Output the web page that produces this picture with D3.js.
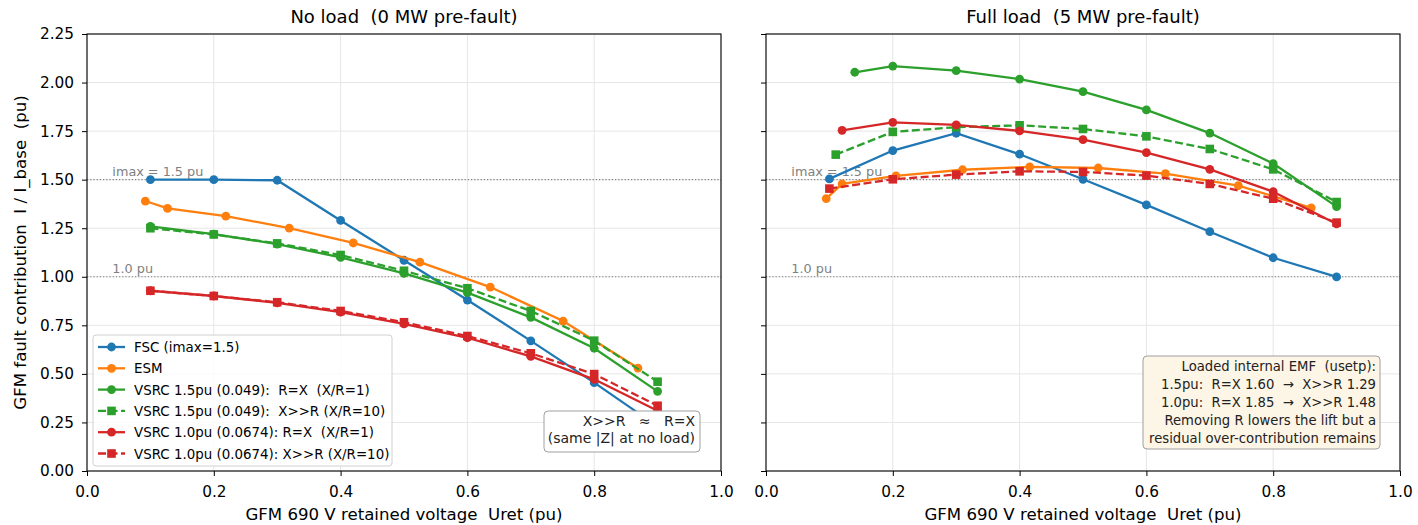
<!DOCTYPE html>
<html><head><meta charset="utf-8">
<script src="https://cdn.jsdelivr.net/npm/d3@7"></script>
<style>body{margin:0;background:#fff}text{font-family:"DejaVu Sans",sans-serif;white-space:pre}</style>
</head><body><svg id="c" width="1418" height="525"></svg>
<script>
const xTicks = [0.0, 0.2, 0.4, 0.6, 0.8, 1.0];
const yTicks = [0.00, 0.25, 0.50, 0.75, 1.00, 1.25, 1.50, 1.75, 2.00, 2.25];
const uGrid = [0.1, 0.2, 0.3, 0.4, 0.5, 0.6, 0.7, 0.8, 0.9];

// No load panel
const nl_fsc  = [1.50, 1.50, 1.497, 1.29, 1.085, 0.88, 0.67, 0.455, 0.23];
const nl_esmU = [0.092, 0.127, 0.219, 0.319, 0.42, 0.525, 0.636, 0.751, 0.869];
const nl_esm  = [1.39, 1.352, 1.312, 1.251, 1.174, 1.075, 0.947, 0.772, 0.53];
const nl_v15rx = [1.26, 1.22, 1.168, 1.10, 1.018, 0.918, 0.791, 0.632, 0.41];
const nl_v15xr = [1.25, 1.218, 1.172, 1.112, 1.031, 0.941, 0.824, 0.671, 0.46];
const nl_v10rx = [0.928, 0.901, 0.866, 0.818, 0.758, 0.686, 0.59, 0.472, 0.31];
const nl_v10xr = [0.928, 0.901, 0.869, 0.824, 0.766, 0.695, 0.606, 0.499, 0.336];

// Full load panel
const fl_fsc  = [1.504, 1.650, 1.739, 1.631, 1.502, 1.370, 1.232, 1.098, 0.999];
const fl_esmU = [0.095, 0.12, 0.205, 0.31, 0.416, 0.524, 0.63, 0.745, 0.86];
const fl_esm  = [1.402, 1.478, 1.520, 1.551, 1.566, 1.560, 1.531, 1.469, 1.355];
const fl_v15rxU = [0.14, 0.2, 0.3, 0.4, 0.5, 0.6, 0.7, 0.8, 0.9];
const fl_v15rx = [2.053, 2.085, 2.061, 2.018, 1.953, 1.859, 1.740, 1.583, 1.361];
const fl_v15xrU = [0.11, 0.2, 0.3, 0.4, 0.5, 0.6, 0.7, 0.8, 0.9];
const fl_v15xr = [1.629, 1.746, 1.770, 1.780, 1.761, 1.723, 1.658, 1.553, 1.385];
const fl_v10rxU = [0.12, 0.2, 0.3, 0.4, 0.5, 0.6, 0.7, 0.8, 0.9];
const fl_v10rx = [1.754, 1.795, 1.782, 1.751, 1.706, 1.639, 1.553, 1.438, 1.272];
const fl_v10xr = [1.454, 1.502, 1.526, 1.543, 1.540, 1.521, 1.478, 1.402, 1.279];

const legendLabels = ["FSC (imax=1.5)", "ESM", "VSRC 1.5pu (0.049):  R=X  (X/R=1)", "VSRC 1.5pu (0.049):  X>>R (X/R=10)", "VSRC 1.0pu (0.0674): R=X  (X/R=1)", "VSRC 1.0pu (0.0674): X>>R (X/R=10)"];
const colors = ["#1f77b4", "#ff7f0e", "#2ca02c", "#2ca02c", "#d62728", "#d62728"];
const dashed = [false, false, false, true, false, true];
const squareM = [false, false, false, true, false, true];

const zip = (u, v) => u.map((d, i) => [d, v[i]]);
const panels = [
  {x0: 87, title: "No load  (0 MW pre-fault)", yLabels: true,
   series: [zip(uGrid, nl_fsc), zip(nl_esmU, nl_esm), zip(uGrid, nl_v15rx), zip(uGrid, nl_v15xr), zip(uGrid, nl_v10rx), zip(uGrid, nl_v10xr)]},
  {x0: 766, title: "Full load  (5 MW pre-fault)", yLabels: false,
   series: [zip(uGrid, fl_fsc), zip(fl_esmU, fl_esm), zip(fl_v15rxU, fl_v15rx), zip(fl_v15xrU, fl_v15xr), zip(fl_v10rxU, fl_v10rx), zip(uGrid, fl_v10xr)]}
];
const W = 634, pTop = 34, pBot = 471;
const svg = d3.select("#c");
const y = d3.scaleLinear().domain([0, 2.25]).range([pBot, pTop]);

panels.forEach((p, pi) => {
  const x = d3.scaleLinear().domain([0, 1]).range([p.x0, p.x0 + W]);
  const g = svg.append("g");
  // grid
  g.selectAll(".gx").data(xTicks).join("line").attr("x1", d => x(d)).attr("x2", d => x(d)).attr("y1", pTop).attr("y2", pBot).attr("stroke", "#e6e6e6").attr("stroke-width", 1);
  g.selectAll(".gy").data(yTicks).join("line").attr("x1", p.x0).attr("x2", p.x0 + W).attr("y1", d => y(d)).attr("y2", d => y(d)).attr("stroke", "#e6e6e6").attr("stroke-width", 1);
  // reference lines
  [[1.5, "imax = 1.5 pu"], [1.0, "1.0 pu"]].forEach(([v, t]) => {
    g.append("line").attr("x1", p.x0).attr("x2", p.x0 + W).attr("y1", y(v)).attr("y2", y(v)).attr("stroke", "#808080").attr("stroke-width", 1.1).attr("stroke-dasharray", "1.2,2");
    g.append("text").attr("x", x(0.04)).attr("y", y(v) - 4).attr("font-size", 12.8).attr("fill", "#808080").text(t);
  });
  // series
  const line = d3.line().x(d => x(d[0])).y(d => y(d[1]));
  p.series.forEach((s, i) => {
    g.append("path").datum(s).attr("d", line).attr("fill", "none").attr("stroke", colors[i]).attr("stroke-width", 2.3)
      .attr("stroke-dasharray", dashed[i] ? "8,3.5" : null);
    if (squareM[i]) {
      g.selectAll(null).data(s).join("rect").attr("x", d => x(d[0]) - 4.3).attr("y", d => y(d[1]) - 4.3).attr("width", 8.6).attr("height", 8.6).attr("fill", colors[i]);
    } else {
      g.selectAll(null).data(s).join("circle").attr("cx", d => x(d[0])).attr("cy", d => y(d[1])).attr("r", 4.4).attr("fill", colors[i]);
    }
  });
  // axes
  const ax = g.append("g").attr("transform", `translate(0,${pBot})`).call(d3.axisBottom(x).tickValues(xTicks).tickFormat(d3.format(".1f")).tickSize(5).tickPadding(10));
  const ay = g.append("g").attr("transform", `translate(${p.x0},0)`).call(d3.axisLeft(y).tickValues(yTicks).tickFormat(p.yLabels ? d3.format(".2f") : () => "").tickSize(5).tickPadding(8));
  [ax, ay].forEach(a => { a.select(".domain").remove(); a.selectAll("text").attr("font-size", 15.3).attr("fill", "#000").attr("font-family", "DejaVu Sans"); a.selectAll("line").attr("stroke", "#000"); });
  g.append("rect").attr("x", p.x0).attr("y", pTop).attr("width", W).attr("height", pBot - pTop).attr("fill", "none").attr("stroke", "#000").attr("stroke-width", 1.1);
  g.append("text").attr("x", p.x0 + W / 2).attr("y", 23).attr("text-anchor", "middle").attr("font-size", 18).text(p.title);
  g.append("text").attr("x", p.x0 + W / 2).attr("y", 520).attr("text-anchor", "middle").attr("font-size", 16.6).text("GFM 690 V retained voltage  Uret (pu)");
});

svg.append("text").attr("transform", "translate(26,252.5) rotate(-90)").attr("text-anchor", "middle").attr("font-size", 16.6).text("GFM fault contribution  I / I_base  (pu)");

// legend
const lg = svg.append("g");
lg.append("rect").attr("x", 93).attr("y", 335).attr("width", 299).attr("height", 131).attr("rx", 3).attr("fill", "rgba(255,255,255,0.8)").attr("stroke", "#d0d0d0");
legendLabels.forEach((t, i) => {
  const yy = 347 + i * 21.3;
  lg.append("line").attr("x1", 98).attr("x2", 125).attr("y1", yy).attr("y2", yy).attr("stroke", colors[i]).attr("stroke-width", 2.3).attr("stroke-dasharray", dashed[i] ? "8,3.5" : null);
  if (squareM[i]) lg.append("rect").attr("x", 111.5 - 4.3).attr("y", yy - 4.3).attr("width", 8.6).attr("height", 8.6).attr("fill", colors[i]);
  else lg.append("circle").attr("cx", 111.5).attr("cy", yy).attr("r", 4.4).attr("fill", colors[i]);
  lg.append("text").attr("x", 134).attr("y", yy + 5).attr("font-size", 13.4).text(t);
});

// annotation boxes
function note(x1, y1, w, h, fill, lines, xr, y0, dy, fs) {
  const a = svg.append("g");
  a.append("rect").attr("x", x1).attr("y", y1).attr("width", w).attr("height", h).attr("rx", 4).attr("fill", fill).attr("stroke", "#a0a0a0");
  lines.forEach((t, i) => a.append("text").attr("x", xr).attr("y", y0 + i * dy).attr("text-anchor", "end").attr("font-size", fs).attr("fill", "#222").text(t));
}
note(544, 411, 156, 41, "#ffffff", ["X>>R   \u2248   R=X", "(same |Z| at no load)"], 695, 426, 16.5, 14);
note(1143, 356, 237, 93, "#fdf5e6", ["Loaded internal EMF  (usetp):", "1.5pu:  R=X 1.60  \u2192  X>>R 1.29", "1.0pu:  R=X 1.85  \u2192  X>>R 1.48", "Removing R lowers the lift but a", "residual over-contribution remains"], 1376, 370.5, 18, 13.2);
</script></body></html>
